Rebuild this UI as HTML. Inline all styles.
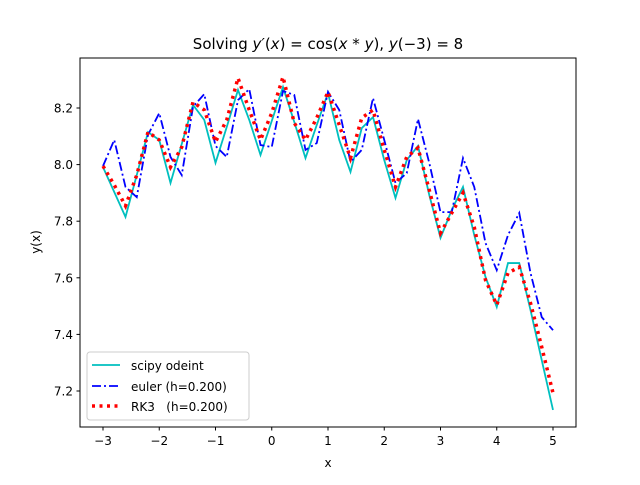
<!DOCTYPE html>
<html><head><meta charset="utf-8"><style>
body{margin:0;background:#fff}
svg text{font-family:"DejaVu Sans","Liberation Sans",sans-serif;fill:#000}
</style></head><body>
<svg id="chart" width="640" height="480" viewBox="0 0 640 480" xmlns="http://www.w3.org/2000/svg">
<rect width="640" height="480" fill="#fff"/>
<text x="328" y="49" font-size="15" text-anchor="middle">Solving <tspan font-style="italic">y′</tspan>(<tspan font-style="italic">x</tspan>) = cos(<tspan font-style="italic">x</tspan> * <tspan font-style="italic">y</tspan>),  <tspan font-style="italic">y</tspan>(−3) = 8</text>
<g id="plot"></g>
<rect x="80" y="58" width="496" height="369" fill="none" stroke="#000" stroke-width="1"/>
<g id="ticks"></g>
<text x="328" y="467" font-size="12" text-anchor="middle">x</text>
<text x="40" y="242" font-size="12" text-anchor="middle" transform="rotate(-90 40 242)">y(x)</text>
<g>
<rect x="87" y="352" width="162" height="68" rx="3" fill="#fff" fill-opacity="0.8" stroke="#ccc"/>
<line x1="92" y1="365" x2="120" y2="365" stroke="#00bfbf" stroke-width="1.8"/>
<text x="131" y="370" font-size="12">scipy odeint</text>
<line x1="92" y1="386" x2="120" y2="386" stroke="#0000ff" stroke-width="1.8" stroke-dasharray="9,3,2,3"/>
<text x="131" y="391" font-size="12">euler (h=0.200)</text>
<line x1="92" y1="406" x2="120" y2="406" stroke="#ff0000" stroke-width="3.5" stroke-dasharray="3,4.5"/>
<text x="131" y="411" font-size="12" xml:space="preserve">RK3   (h=0.200)</text>
</g>
</svg>
<script>
const xStart=-3, xStep=0.2;
const odeint=[7.991,7.903,7.815,7.963,8.115,8.087,7.935,8.073,8.211,8.158,8.006,8.133,8.264,8.158,8.034,8.154,8.274,8.151,8.023,8.140,8.253,8.087,7.974,8.129,8.168,8.016,7.882,8.016,8.066,7.893,7.741,7.840,7.921,7.751,7.603,7.497,7.652,7.652,7.486,7.309,7.133];
const euler=[7.995,8.087,7.921,7.885,8.105,8.182,8.027,7.963,8.204,8.249,8.066,8.027,8.228,8.267,8.069,8.062,8.260,8.246,8.052,8.076,8.257,8.193,8.009,8.052,8.235,8.087,7.935,7.970,8.161,8.006,7.832,7.832,8.023,7.921,7.723,7.627,7.751,7.829,7.617,7.461,7.415];
const rk3=[7.995,7.928,7.854,7.963,8.115,8.087,7.991,8.062,8.221,8.193,8.080,8.158,8.306,8.193,8.087,8.182,8.310,8.147,8.087,8.165,8.257,8.140,8.023,8.165,8.193,8.052,7.921,8.027,8.059,7.910,7.758,7.829,7.900,7.779,7.592,7.504,7.617,7.638,7.511,7.355,7.193];
const xTicks=[-3,-2,-1,0,1,2,3,4,5];
const yTicks=[7.2,7.4,7.6,7.8,8.0,8.2];
const xTickLabels=["−3","−2","−1","0","1","2","3","4","5"];
const yTickLabels=["7.2","7.4","7.6","7.8","8.0","8.2"];
function sx(x){return 103+(x+3)*56.25;}
function sy(y){return 108+(8.2-y)*283;}
const NS="http://www.w3.org/2000/svg";
const plot=document.getElementById('plot'), ticks=document.getElementById('ticks');
function series(arr,color,w,dash,name){
  const p=document.createElementNS(NS,'polyline');
  p.setAttribute('points',arr.map((v,i)=>sx(xStart+i*xStep)+','+sy(v)).join(' '));
  p.setAttribute('fill','none');p.setAttribute('stroke',color);p.setAttribute('stroke-width',w);
  if(dash)p.setAttribute('stroke-dasharray',dash);
  
  
  plot.appendChild(p);
}
series(odeint,'#00bfbf',1.8,null,'odeint-line');
series(euler,'#0000ff',1.8,'9,3,2,3','euler-line');
series(rk3,'#ff0000',3.5,'3,4.5','rk3-line');
xTicks.forEach((t,i)=>{
  const l=document.createElementNS(NS,'line');
  l.setAttribute('x1',sx(t));l.setAttribute('x2',sx(t));l.setAttribute('y1',427);l.setAttribute('y2',430.5);l.setAttribute('stroke','#000');
  
  
  ticks.appendChild(l);
  const tx=document.createElementNS(NS,'text');
  tx.setAttribute('x',sx(t));tx.setAttribute('y',445);tx.setAttribute('font-size','12');tx.setAttribute('text-anchor','middle');
  tx.textContent=xTickLabels[i];
  
  
  ticks.appendChild(tx);
});
yTicks.forEach((t,i)=>{
  const l=document.createElementNS(NS,'line');
  l.setAttribute('x1',76.5);l.setAttribute('x2',80);l.setAttribute('y1',sy(t));l.setAttribute('y2',sy(t));l.setAttribute('stroke','#000');
  
  
  ticks.appendChild(l);
  const tx=document.createElementNS(NS,'text');
  tx.setAttribute('x',73);tx.setAttribute('y',sy(t)+4.5);tx.setAttribute('font-size','12');tx.setAttribute('text-anchor','end');
  tx.textContent=yTickLabels[i];
  
  
  ticks.appendChild(tx);
});
</script>
</body></html>
